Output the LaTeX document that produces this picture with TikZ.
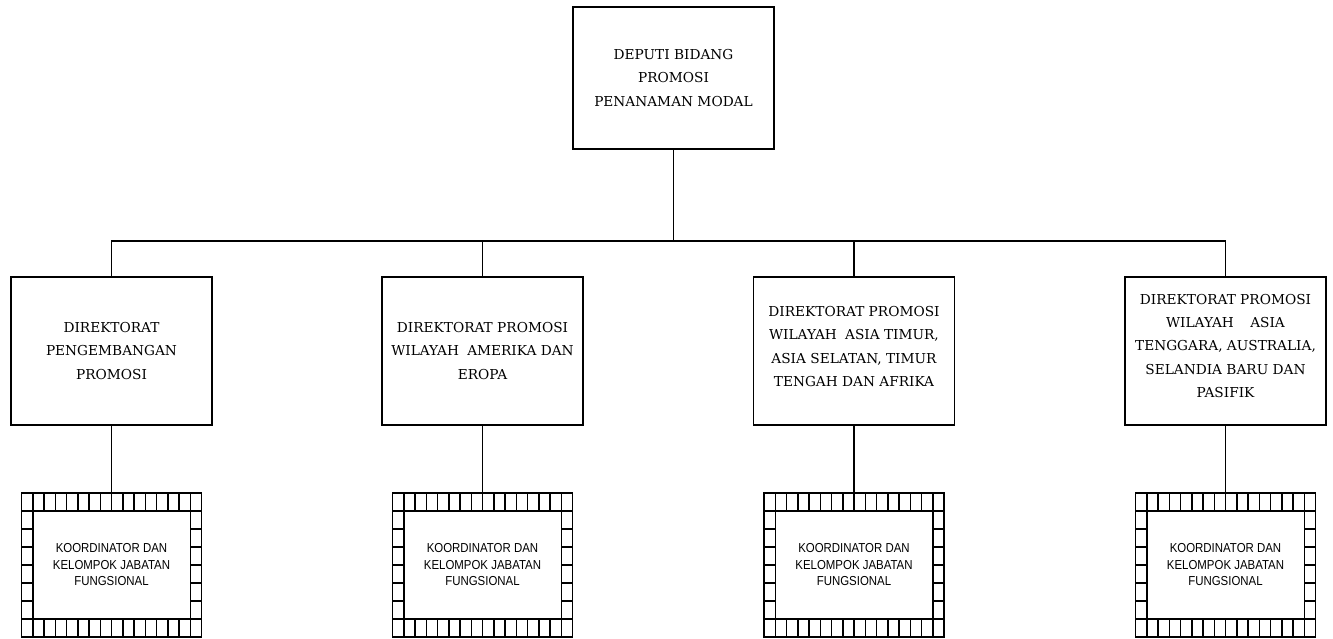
\documentclass[tikz,border=0pt]{standalone}
\usepackage{fontspec}
\setmainfont{DejaVu Serif}
\newfontfamily\kfont[FakeStretch=0.88]{Liberation Sans}
% text block that sits a little above the middle of its box
\newcommand{\upblock}[3]{\raisebox{0pt}[\height][\dimexpr\depth+#1\relax]{\parbox{#2}{\centering #3}}}
\begin{document}
\begin{tikzpicture}[x=1pt,y=-1pt,
  line width=1.5pt,
  unit/.style={draw, align=center, minimum width=201pt, inner sep=0pt,
    font=\fontsize{13.7}{23.3}\selectfont},
  frame/.style={draw, minimum width=180pt, minimum height=144pt, inner sep=0pt,
    path picture={
      \foreach \i in {1,...,15}{
        \draw[line width=1.5pt] ([xshift=\i*11.25pt]path picture bounding box.north west) -- ++(0,-18pt);
        \draw[line width=1.5pt] ([xshift=\i*11.25pt]path picture bounding box.south west) -- ++(0,18pt);}
      \foreach \j in {1,...,7}{
        \draw[line width=1.5pt] ([yshift=-\j*18pt]path picture bounding box.north west) -- ++(11.25pt,0);
        \draw[line width=1.5pt] ([yshift=-\j*18pt]path picture bounding box.north east) -- ++(-11.25pt,0);}
    }},
  inner/.style={draw, fill=white, minimum width=157.5pt, minimum height=108pt, inner sep=0pt,
    align=center, font=\kfont\fontsize{13}{16.5}\selectfont}
]
\useasboundingbox (0,0) rectangle (1333,638);

% head of the unit
\node[unit, minimum height=142pt] (dep) at (673.5,78) {DEPUTI BIDANG\\PROMOSI\\PENANAMAN MODAL};

% directorates
\node[unit, minimum height=148pt] (d1) at (111.5,351) {DIREKTORAT\\PENGEMBANGAN\\PROMOSI};
\node[unit, minimum height=148pt] (d2) at (482.5,351) {DIREKTORAT PROMOSI\\WILAYAH\hspace{0.6em}AMERIKA DAN\\EROPA};
\node[unit, minimum height=148pt] (d3) at (854,351) {\upblock{9pt}{190pt}{DIREKTORAT PROMOSI\\WILAYAH\hspace{0.6em}ASIA TIMUR,\\ASIA SELATAN, TIMUR\\TENGAH DAN AFRIKA}};
\node[unit, minimum height=148pt] (d4) at (1225.5,351) {\upblock{10pt}{195pt}{DIREKTORAT PROMOSI\\WILAYAH\hspace{1.2em}ASIA\\TENGGARA, AUSTRALIA,\\SELANDIA BARU DAN\\PASIFIK}};

% functional groups
\foreach \n/\cx in {1/111.5, 2/482.5, 3/854, 4/1225.5}{
  \node[frame] (k\n) at (\cx,565) {};
  \node[inner] (ki\n) at (k\n.center) {KOORDINATOR DAN\\KELOMPOK JABATAN\\FUNGSIONAL};
}

% connectors
\foreach \n in {1,...,4}{
  \draw (dep.south) -- ++(0,91) -| (d\n.north);
  \draw (d\n.south) -- (k\n.north);
}
\end{tikzpicture}
\end{document}
